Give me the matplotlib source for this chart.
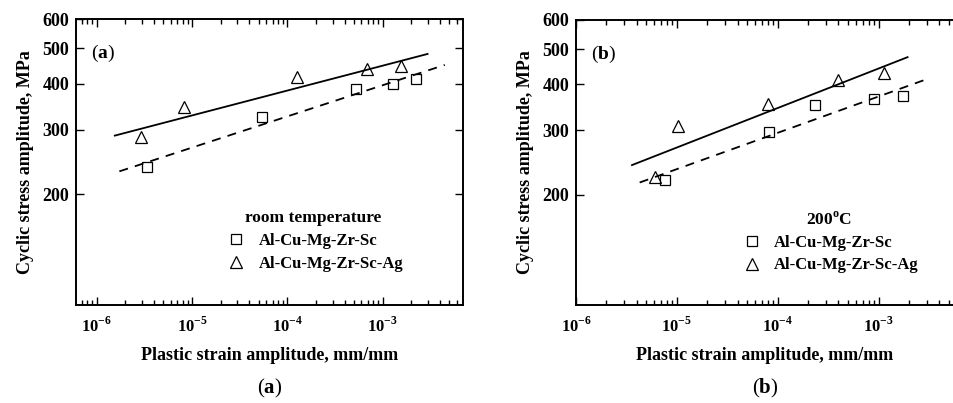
import matplotlib
matplotlib.use('Agg')
import matplotlib.pyplot as plt
import matplotlib.ticker as mticker
import numpy as np

plt.rcParams['font.family'] = 'Liberation Serif'
plt.rcParams['mathtext.fontset'] = 'custom'
plt.rcParams['mathtext.rm'] = 'Liberation Serif:bold'
plt.rcParams['mathtext.bf'] = 'Liberation Serif:bold'

# panel (a): room temperature
a_sc_x = [3.37e-6, 5.4e-5, 5.3e-4, 1.28e-3, 2.26e-3]
a_sc_y = [238, 324, 388, 400, 412]
a_ag_x = [2.94e-6, 8.2e-6, 1.26e-4, 6.86e-4, 1.56e-3]
a_ag_y = [286, 346, 416, 438, 448]
a_fit_ag_x = [1.55e-6, 2.96e-3]
a_fit_ag_y = [289, 482]
a_fit_sc_x = [1.73e-6, 4.49e-3]
a_fit_sc_y = [231, 450]

# panel (b): 200 C
b_sc_x = [7.57e-6, 8.24e-5, 2.37e-4, 9.06e-4, 1.75e-3]
b_sc_y = [219, 297, 352, 365, 372]
b_ag_x = [6.1e-6, 1.03e-5, 8.05e-5, 3.98e-4, 1.13e-3]
b_ag_y = [223, 308, 353, 412, 431]
b_fit_ag_x = [3.59e-6, 1.94e-3]
b_fit_ag_y = [241, 475]
b_fit_sc_x = [4.28e-6, 2.96e-3]
b_fit_sc_y = [216, 413]

yticks = [200, 300, 400, 500, 600]
names = ['Al-Cu-Mg-Zr-Sc', 'Al-Cu-Mg-Zr-Sc-Ag']

fig = plt.figure(figsize=(9.54, 4.03), dpi=100)
W, H = 954, 403


def fmt(v, pos):
    e = int(round(np.log10(v)))
    return r'$10^{%d}$' % e


def panel(rect, xlim, sc, ag, fsc, fag, tag, title, right_spine, legx):
    ax = fig.add_axes(rect)
    ax.set_xscale('log')
    ax.set_yscale('log')
    ax.plot(fag[0], fag[1], '-', color='k', lw=1.3)
    ax.plot(fsc[0], fsc[1], '--', color='k', lw=1.3, dashes=(5, 4))
    ax.plot(sc[0], sc[1], 's', ms=6.5, mfc='none', mec='k', mew=0.9, ls='none', label=names[0])
    ax.plot(ag[0], ag[1], '^', ms=9, mfc='none', mec='k', mew=0.9, ls='none', label=names[1])
    ax.set_xlim(*xlim)
    ax.set_ylim(100, 600)
    ax.yaxis.set_major_locator(mticker.FixedLocator(yticks))
    ax.yaxis.set_minor_locator(mticker.NullLocator())
    ax.yaxis.set_major_formatter(mticker.FixedFormatter([str(t) for t in yticks]))
    ax.xaxis.set_major_locator(mticker.LogLocator(base=10, numticks=10))
    ax.xaxis.set_minor_locator(mticker.LogLocator(base=10, subs=np.arange(2, 10), numticks=10))
    ax.xaxis.set_major_formatter(mticker.FuncFormatter(fmt))
    ax.xaxis.set_minor_formatter(mticker.NullFormatter())
    ax.tick_params(which='both', direction='in', top=True, right=right_spine, width=1.0)
    ax.tick_params(which='major', length=6)
    ax.tick_params(which='minor', length=3.5)
    ax.tick_params(axis='x', which='major', pad=8, labelsize=12)
    ax.tick_params(axis='y', which='major', pad=5, labelsize=13)
    for lab in ax.get_yticklabels():
        lab.set_fontweight('bold')
    for s in ax.spines.values():
        s.set_linewidth(1.4)
    if not right_spine:
        ax.spines['right'].set_visible(False)
    ax.set_xlabel('Plastic strain amplitude, mm/mm', fontsize=13, fontweight='bold', labelpad=8)
    ax.set_ylabel('Cyclic stress amplitude, MPa', fontsize=13, fontweight='bold', labelpad=6)
    ax.text(0.04, 0.865, r'($\mathbf{%s}$)' % tag, transform=ax.transAxes, fontsize=14)
    leg = ax.legend(loc='upper left', bbox_to_anchor=(legx, 0.36), frameon=False,
                    title=title, handletextpad=0.6, handlelength=1.5, borderpad=0,
                    labelspacing=0.4, prop={'weight': 'bold', 'size': 12})
    leg.get_title().set_fontweight('bold')
    leg.get_title().set_fontsize(12.5)
    return ax


ax1 = panel([76 / W, 1 - 305 / H, 387 / W, 286 / H], (6.07e-7, 6.97e-3),
            (a_sc_x, a_sc_y), (a_ag_x, a_ag_y), (a_fit_sc_x, a_fit_sc_y), (a_fit_ag_x, a_fit_ag_y),
            'a', 'room temperature', True, 0.36)
ax2 = panel([576 / W, 1 - 305 / H, 378 / W, 285 / H], (1e-6, 5.6e-3),
            (b_sc_x, b_sc_y), (b_ag_x, b_ag_y), (b_fit_sc_x, b_fit_sc_y), (b_fit_ag_x, b_fit_ag_y),
            'b', r'200$^{\rm o}$C', False, 0.41)

fig.text(270 / W, 1 - 388 / H, r'($\mathbf{a}$)', ha='center', va='center', fontsize=15)
fig.text(765 / W, 1 - 388 / H, r'($\mathbf{b}$)', ha='center', va='center', fontsize=15)

fig.savefig('out.png', dpi=100)
